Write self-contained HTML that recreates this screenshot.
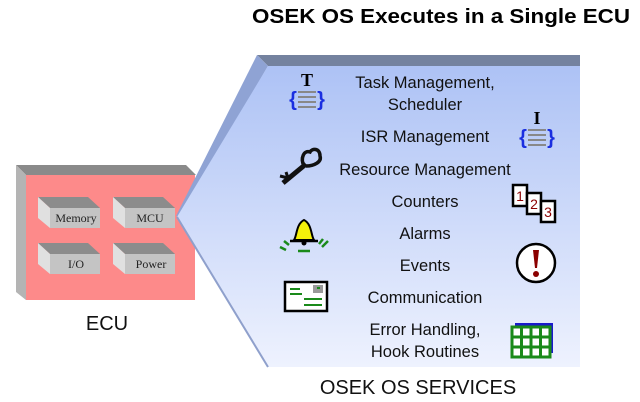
<!DOCTYPE html>
<html><head><meta charset="utf-8"><style>
html,body{margin:0;padding:0;background:#fff;width:640px;height:402px;overflow:hidden}
svg{display:block}
text{font-family:"Liberation Sans",Arial,sans-serif}
text.s{font-family:"Liberation Serif",serif;font-size:12px;fill:#222}
text.sf{font-family:"Liberation Serif",serif}
.t{font-size:16.5px;fill:#111}
</style></head><body>
<svg width="640" height="402" viewBox="0 0 640 402" xmlns="http://www.w3.org/2000/svg">
<defs>
<linearGradient id="g" x1="0" y1="0" x2="0" y2="1">
<stop offset="0" stop-color="#adc2f5"/><stop offset="1" stop-color="#eef2fe"/></linearGradient>
</defs>
<text x="252" y="23" font-size="20" font-weight="bold" textLength="378" lengthAdjust="spacingAndGlyphs" fill="#000">OSEK OS Executes in a Single ECU</text>
<!-- ECU -->
<polygon points="16,165 186,165 196,175 26,175" fill="#8a8a8a"/>
<polygon points="16,165 26,175 26,300 16,292" fill="#b4b4b4"/>
<rect x="26" y="175" width="169" height="125" fill="#fd8a8a"/>
<g>
<polygon points="38,197 88,197 100,208 50,208" fill="#8c8c8c"/><polygon points="38,197 50,208 50,228 38,218" fill="#e0e0e0"/><rect x="50" y="208" width="50" height="20" fill="#c4c4c4"/>
<polygon points="113,197 163,197 175,208 125,208" fill="#8c8c8c"/><polygon points="113,197 125,208 125,228 113,218" fill="#e0e0e0"/><rect x="125" y="208" width="50" height="20" fill="#c4c4c4"/>
<polygon points="38,243 88,243 100,254 50,254" fill="#8c8c8c"/><polygon points="38,243 50,254 50,274 38,264" fill="#e0e0e0"/><rect x="50" y="254" width="50" height="20" fill="#c4c4c4"/>
<polygon points="113,243 163,243 175,254 125,254" fill="#8c8c8c"/><polygon points="113,243 125,254 125,274 113,264" fill="#e0e0e0"/><rect x="125" y="254" width="50" height="20" fill="#c4c4c4"/>
<text class="s" x="76" y="222" text-anchor="middle">Memory</text>
<text class="s" x="150" y="222" text-anchor="middle">MCU</text>
<text class="s" x="76" y="268" text-anchor="middle">I/O</text>
<text class="s" x="151" y="268" text-anchor="middle">Power</text>
</g>
<text x="107" y="330" font-size="20" text-anchor="middle" fill="#111">ECU</text>
<!-- Services panel -->
<polygon points="257,55 580,55 580,66 268,66" fill="#74829f"/>
<polygon points="257,55 268,66 180,217 176,216" fill="#8fa3d4"/>
<polygon points="268,66 580,66 580,367 268,367 177,217" fill="url(#g)"/>
<polyline points="177,217 268,367" fill="none" stroke="#8fa0cc" stroke-width="2"/>
<g text-anchor="middle">
<text class="t" x="425" y="88">Task Management,</text>
<text class="t" x="425" y="110">Scheduler</text>
<text class="t" x="425" y="142">ISR Management</text>
<text class="t" x="425" y="175">Resource Management</text>
<text class="t" x="425" y="207">Counters</text>
<text class="t" x="425" y="239">Alarms</text>
<text class="t" x="425" y="271">Events</text>
<text class="t" x="425" y="303">Communication</text>
<text class="t" x="425" y="335">Error Handling,</text>
<text class="t" x="425" y="357">Hook Routines</text>
</g>
<text x="418" y="394" font-size="20" text-anchor="middle" fill="#111">OSEK OS SERVICES</text>
<!-- T icon -->
<text class="sf" x="307" y="86" font-weight="bold" font-size="18" text-anchor="middle">T</text>
<g stroke="#888" stroke-width="2"><line x1="298" y1="92" x2="316" y2="92"/><line x1="298" y1="97" x2="316" y2="97"/><line x1="298" y1="102" x2="316" y2="102"/><line x1="298" y1="107" x2="316" y2="107"/></g>
<text x="293" y="106" font-size="20" font-weight="bold" fill="#1a2ee0" text-anchor="middle">{</text>
<text x="321" y="106" font-size="20" font-weight="bold" fill="#1a2ee0" text-anchor="middle">}</text>
<!-- I icon -->
<text class="sf" x="537" y="124" font-weight="bold" font-size="18" text-anchor="middle">I</text>
<g stroke="#888" stroke-width="2"><line x1="528" y1="130" x2="546" y2="130"/><line x1="528" y1="135" x2="546" y2="135"/><line x1="528" y1="140" x2="546" y2="140"/><line x1="528" y1="145" x2="546" y2="145"/></g>
<text x="523" y="144" font-size="20" font-weight="bold" fill="#1a2ee0" text-anchor="middle">{</text>
<text x="551" y="144" font-size="20" font-weight="bold" fill="#1a2ee0" text-anchor="middle">}</text>
<!-- key -->
<g stroke="#111" fill="none">
<line x1="283" y1="183" x2="306" y2="164" stroke-width="5"/>
<path d="M304,166 C300,158 304,150 310,152 C312,148 320,148 320,156 C322,162 314,166 306,166" stroke-width="3.5"/>
<polyline points="280,176 288,178 286,172" stroke-width="3"/>
</g>
<!-- 123 -->
<g font-size="14" fill="#8b0000" text-anchor="middle">
<rect x="513" y="185" width="14" height="21" fill="#fff" stroke="#000" stroke-width="2.5"/><text x="520" y="201">1</text>
<rect x="527" y="193" width="14" height="21" fill="#fff" stroke="#000" stroke-width="2.5"/><text x="534" y="209">2</text>
<rect x="541" y="201" width="14" height="21" fill="#fff" stroke="#000" stroke-width="2.5"/><text x="548" y="217">3</text>
</g>
<!-- bell -->
<path d="M294,240 C297,236 296,224 304,220 C312,224 311,236 314,240 Z" fill="#f5f00a" stroke="#000" stroke-width="2"/>
<line x1="290" y1="241" x2="318" y2="241" stroke="#000" stroke-width="2.5"/>
<circle cx="304" cy="243" r="2.5" fill="#000"/>
<g stroke="#1a8a1a" stroke-width="2.5"><line x1="298" y1="251" x2="310" y2="251"/><line x1="280" y1="247" x2="286" y2="250"/><line x1="284" y1="241" x2="289" y2="245"/><line x1="322" y1="247" x2="328" y2="241"/><line x1="319" y1="244" x2="323" y2="239"/></g>
<!-- ! circle -->
<circle cx="536" cy="263" r="19" fill="#fff" stroke="#000" stroke-width="2.5"/>
<path d="M533,250 L539,250 L537,268 L535,268 Z" fill="#8b0000"/><circle cx="536" cy="274" r="3" fill="#8b0000"/>
<!-- envelope -->
<rect x="285" y="282" width="42" height="29" fill="#fff" stroke="#000" stroke-width="2.5"/>
<rect x="313" y="285" width="10" height="8" fill="#999"/>
<g stroke="#1a8a1a" stroke-width="2"><line x1="290" y1="289" x2="300" y2="289"/><line x1="290" y1="294" x2="302" y2="294"/><line x1="304" y1="299" x2="322" y2="299"/><line x1="304" y1="305" x2="322" y2="305"/><line x1="317" y1="288" x2="320" y2="288"/></g>
<!-- grid -->
<rect x="515" y="323" width="38" height="30" fill="#1a1acc"/>
<rect x="512" y="327" width="38" height="30" fill="#fff" stroke="#1a8a1a" stroke-width="3"/>
<g stroke="#1a8a1a" stroke-width="3"><line x1="521.5" y1="327" x2="521.5" y2="357"/><line x1="531" y1="327" x2="531" y2="357"/><line x1="540.5" y1="327" x2="540.5" y2="357"/><line x1="512" y1="337" x2="550" y2="337"/><line x1="512" y1="347" x2="550" y2="347"/></g>
</svg>
</body></html>
